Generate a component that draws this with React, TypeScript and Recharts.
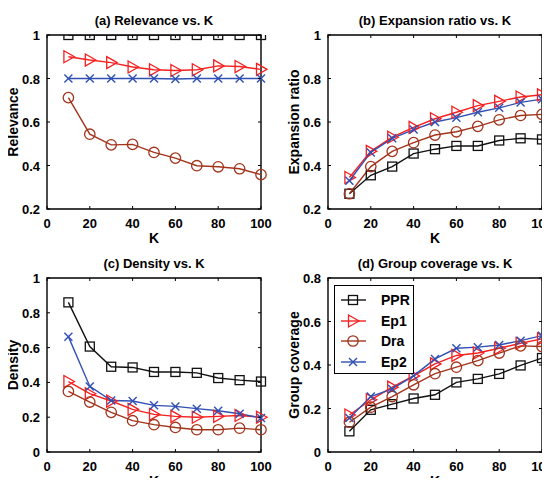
import React from "react";
import { LineChart, Line, XAxis, YAxis, ReferenceArea } from "recharts";

const kValues = [10, 20, 30, 40, 50, 60, 70, 80, 90, 100];
const kTicks = [0, 20, 40, 60, 80, 100];

// (a) Relevance
const relPPR = [1, 1, 1, 1, 1, 1, 1, 1, 1, 1];
const relEp1 = [0.9, 0.885, 0.873, 0.853, 0.84, 0.837, 0.84, 0.858, 0.855, 0.842];
const relDra = [0.712, 0.544, 0.495, 0.497, 0.46, 0.434, 0.399, 0.394, 0.385, 0.358];
const relEp2 = [0.8, 0.8, 0.8, 0.8, 0.8, 0.798, 0.8, 0.8, 0.8, 0.8];

// (b) Expansion ratio
const expPPR = [0.27, 0.355, 0.395, 0.455, 0.475, 0.49, 0.49, 0.515, 0.525, 0.52];
const expEp1 = [0.345, 0.465, 0.53, 0.575, 0.615, 0.645, 0.675, 0.695, 0.715, 0.725];
const expDra = [0.27, 0.395, 0.465, 0.505, 0.54, 0.555, 0.58, 0.61, 0.63, 0.635];
const expEp2 = [0.33, 0.46, 0.525, 0.565, 0.6, 0.62, 0.645, 0.665, 0.69, 0.705];

// (c) Density
const denPPR = [0.86, 0.606, 0.49, 0.486, 0.46, 0.46, 0.455, 0.425, 0.413, 0.405];
const denEp1 = [0.405, 0.335, 0.293, 0.245, 0.216, 0.205, 0.2, 0.205, 0.21, 0.2];
const denDra = [0.348, 0.287, 0.228, 0.18, 0.157, 0.141, 0.128, 0.128, 0.137, 0.128];
const denEp2 = [0.663, 0.377, 0.296, 0.293, 0.268, 0.262, 0.249, 0.237, 0.22, 0.195];

// (d) Group coverage
const covPPR = [0.095, 0.194, 0.22, 0.246, 0.263, 0.32, 0.336, 0.359, 0.398, 0.432];
const covEp1 = [0.17, 0.24, 0.298, 0.35, 0.405, 0.444, 0.455, 0.477, 0.5, 0.52];
const covDra = [0.137, 0.206, 0.255, 0.309, 0.36, 0.39, 0.42, 0.455, 0.488, 0.485];
const covEp2 = [0.156, 0.255, 0.29, 0.35, 0.428, 0.477, 0.482, 0.492, 0.512, 0.535];

const seriesNames = ["PPR", "Ep1", "Dra", "Ep2"];
const colors: Record<string, string> = {
  PPR: "#111111",
  Ep1: "#f42020",
  Dra: "#a2341c",
  Ep2: "#3050b4",
};

const FONT = "'Liberation Sans', Arial, sans-serif";
const W = 275;
const H = 243;
const TOP = 35;
const BOTTOM = 209;

function Marker({ name, cx, cy }: { name: string; cx: number; cy: number }) {
  const c = colors[name];
  if (name === "PPR")
    return <rect x={cx - 4.5} y={cy - 4.5} width={9} height={9} fill="none" stroke={c} strokeWidth={1.3} />;
  if (name === "Ep1")
    return (
      <polygon
        points={`${cx - 4.5},${cy - 6} ${cx + 6},${cy} ${cx - 4.5},${cy + 6}`}
        fill="none"
        stroke={c}
        strokeWidth={1.3}
      />
    );
  if (name === "Dra") return <circle cx={cx} cy={cy} r={5.2} fill="none" stroke={c} strokeWidth={1.3} />;
  return (
    <g stroke={c} strokeWidth={1.4}>
      <line x1={cx - 4} y1={cy - 4} x2={cx + 4} y2={cy + 4} />
      <line x1={cx - 4} y1={cy + 4} x2={cx + 4} y2={cy - 4} />
    </g>
  );
}

function fmt(v: number) {
  return String(Math.round(v * 10) / 10);
}

interface PanelProps {
  title: string;
  yLabel: string;
  yDomain: [number, number];
  yTicks: number[];
  values: number[][];
  plotLeft: number;
  plotRight: number;
  legend?: boolean;
}

function Panel({ title, yLabel, yDomain, yTicks, values, plotLeft, plotRight, legend }: PanelProps) {
  const data = kValues.map((k, i) => {
    const row: Record<string, number> = { k };
    seriesNames.forEach((n, j) => (row[n] = values[j][i]));
    return row;
  });
  const yAxisW = 40;
  const xAxisH = 30;
  const xTick = (p: any) => (
    <g>
      <line x1={p.x} x2={p.x} y1={BOTTOM} y2={BOTTOM - 3} stroke="#000" />
      <line x1={p.x} x2={p.x} y1={TOP} y2={TOP + 3} stroke="#000" />
      <text x={p.x} y={BOTTOM + 18.5} textAnchor="middle" fontSize={13} fontWeight="bold" fill="#000" fontFamily={FONT}>
        {p.payload.value}
      </text>
    </g>
  );
  const yTick = (p: any) => (
    <g>
      <line x1={plotLeft} x2={plotLeft + 3} y1={p.y} y2={p.y} stroke="#000" />
      <line x1={plotRight} x2={plotRight - 3} y1={p.y} y2={p.y} stroke="#000" />
      <text x={plotLeft - 7} y={p.y + 5} textAnchor="end" fontSize={13} fontWeight="bold" fill="#000" fontFamily={FONT}>
        {fmt(p.payload.value)}
      </text>
    </g>
  );
  const midY = (TOP + BOTTOM) / 2;
  const midX = (plotLeft + plotRight) / 2;
  const labelX = plotLeft - 34;
  return (
    <div style={{ position: "relative", width: W, height: H }}>
      <LineChart
        width={W}
        height={H}
        data={data}
        margin={{ top: TOP, right: W - plotRight, bottom: H - BOTTOM - xAxisH, left: plotLeft - yAxisW }}
      >
        <XAxis
          dataKey="k"
          type="number"
          domain={[0, 100]}
          ticks={kTicks}
          height={xAxisH}
          axisLine={false}
          tickLine={false}
          tick={xTick}
          interval={0}
        />
        <YAxis
          type="number"
          domain={yDomain}
          ticks={yTicks}
          width={yAxisW}
          axisLine={false}
          tickLine={false}
          tick={yTick}
          interval={0}
          allowDataOverflow
        />
        <ReferenceArea
          x1={0}
          x2={100}
          y1={yDomain[0]}
          y2={yDomain[1]}
          fill="none"
          stroke="#000"
          strokeWidth={1.4}
          ifOverflow="visible"
        />
        {seriesNames.map((n) => (
          <Line
            key={n}
            dataKey={n}
            type="linear"
            stroke={colors[n]}
            strokeWidth={1.4}
            isAnimationActive={false}
            dot={(p: any) => (
              <g key={`${n}-${p.index}`}>
                <Marker name={n} cx={p.cx} cy={p.cy} />
              </g>
            )}
            activeDot={false}
          />
        ))}
      </LineChart>
      <div
        style={{
          position: "absolute",
          left: midX - 120,
          width: 240,
          top: 13,
          textAlign: "center",
          fontSize: 13,
          fontWeight: "bold",
          lineHeight: "16px",
          fontFamily: FONT,
        }}
      >
        {title}
      </div>
      <div
        style={{
          position: "absolute",
          left: midX - 20,
          width: 40,
          top: 230,
          textAlign: "center",
          fontSize: 14,
          fontWeight: "bold",
          lineHeight: "16px",
          fontFamily: FONT,
        }}
      >
        K
      </div>
      <div
        style={{
          position: "absolute",
          left: labelX - 60,
          top: midY - 8,
          width: 120,
          height: 16,
          textAlign: "center",
          fontSize: 14,
          fontWeight: "bold",
          lineHeight: "16px",
          fontFamily: FONT,
          whiteSpace: "nowrap",
          transform: "rotate(-90deg)",
        }}
      >
        {yLabel}
      </div>
      {legend && (
        <div
          style={{
            position: "absolute",
            left: 59,
            top: 42,
            width: 80,
            height: 89,
            boxSizing: "border-box",
            border: "1.4px solid #000",
            background: "#fff",
          }}
        >
          {seriesNames.map((n, i) => (
            <div key={n} style={{ position: "absolute", left: 0, top: 4 + i * 20.5, height: 20, width: 78 }}>
              <svg width={32} height={20} style={{ position: "absolute", left: 2, top: 0 }}>
                <line x1={4} x2={29} y1={10} y2={10} stroke={colors[n]} strokeWidth={1.4} />
                <Marker name={n} cx={16} cy={10} />
              </svg>
              <span
                style={{
                  position: "absolute",
                  left: 46,
                  top: 2,
                  fontSize: 14,
                  fontWeight: "bold",
                  lineHeight: "16px",
                  fontFamily: FONT,
                }}
              >
                {n}
              </span>
            </div>
          ))}
        </div>
      )}
    </div>
  );
}

export default function App() {
  return (
    <div style={{ position: "relative", width: 550, height: 486, margin: -8, background: "#fff" }}>
      <div style={{ position: "absolute", left: 0, top: 0 }}>
        <Panel
          title="(a) Relevance vs. K"
          yLabel="Relevance"
          yDomain={[0.2, 1]}
          yTicks={[0.2, 0.4, 0.6, 0.8, 1]}
          values={[relPPR, relEp1, relDra, relEp2]}
          plotLeft={47}
          plotRight={261}
        />
      </div>
      <div style={{ position: "absolute", left: 275, top: 0 }}>
        <Panel
          title="(b) Expansion ratio vs. K"
          yLabel="Expansion ratio"
          yDomain={[0.2, 1]}
          yTicks={[0.2, 0.4, 0.6, 0.8, 1]}
          values={[expPPR, expEp1, expDra, expEp2]}
          plotLeft={53}
          plotRight={267}
        />
      </div>
      <div style={{ position: "absolute", left: 0, top: 243 }}>
        <Panel
          title="(c) Density vs. K"
          yLabel="Density"
          yDomain={[0, 1]}
          yTicks={[0, 0.2, 0.4, 0.6, 0.8, 1]}
          values={[denPPR, denEp1, denDra, denEp2]}
          plotLeft={47}
          plotRight={261}
        />
      </div>
      <div style={{ position: "absolute", left: 275, top: 243 }}>
        <Panel
          title="(d) Group coverage vs. K"
          yLabel="Group coverage"
          yDomain={[0, 0.8]}
          yTicks={[0, 0.2, 0.4, 0.6, 0.8]}
          values={[covPPR, covEp1, covDra, covEp2]}
          plotLeft={53}
          plotRight={267}
          legend
        />
      </div>
    </div>
  );
}
